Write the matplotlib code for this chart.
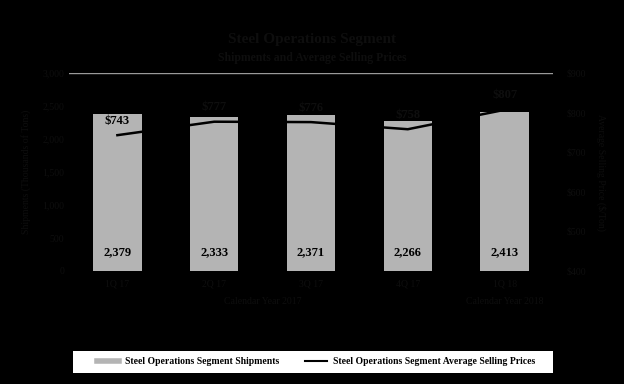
import matplotlib
matplotlib.use("Agg")
import matplotlib.pyplot as plt
from matplotlib.lines import Line2D
from matplotlib.patches import Rectangle
from matplotlib.ticker import FuncFormatter, MultipleLocator

# data
quarters = ["1Q 17", "2Q 17", "3Q 17", "4Q 17", "1Q 18"]
shipments = [2379, 2333, 2371, 2266, 2413]
avg_price = [743, 777, 776, 758, 807]

DARK = "#0e0e0e"
BAR_GRAY = "#b4b4b4"

plt.rcParams["font.family"] = ["Liberation Serif", "DejaVu Serif"]

fig = plt.figure(figsize=(6.24, 3.84), dpi=100, facecolor="black")
ax = fig.add_axes([69 / 624, 113 / 384, 484 / 624, 198 / 384])
ax.set_facecolor("black")

x = list(range(len(quarters)))
ax.bar(x, shipments, width=0.5, color=BAR_GRAY, zorder=2)
for xi, v in zip(x, shipments):
    ax.text(xi, 200, f"{v:,}", ha="center", va="bottom",
            fontsize=9, fontweight="bold", color="black", zorder=4)

ax.set_xlim(-0.5, len(quarters) - 0.5)
ax.set_ylim(0, 3000)
ax.yaxis.set_major_locator(MultipleLocator(500))
ax.yaxis.set_major_formatter(FuncFormatter(lambda v, p: f"{int(v):,}"))
ax.set_xticks(x)
ax.set_xticklabels(quarters)
ax.tick_params(axis="both", colors=DARK, labelcolor=DARK, labelsize=7, length=0)
ax.tick_params(axis="x", pad=6)
for s in ax.spines.values():
    s.set_visible(False)
ax.axhline(3000, color="#9a9a9a", lw=1, zorder=1)
ax.set_ylabel("Shipments (Thousands of Tons)", color=DARK, fontsize=7, labelpad=8)

# price line on right axis
ax2 = ax.twinx()
ax2.plot(x, avg_price, color="black", lw=1.8, zorder=3)
for xi, p in zip(x, avg_price):
    ax2.annotate(f"${p}", (xi, p), xytext=(0, 6), textcoords="offset points",
                 ha="center", va="bottom", fontsize=9, fontweight="bold",
                 color="black" if xi == 0 else DARK)
ax2.set_ylim(400, 900)
ax2.yaxis.set_major_locator(MultipleLocator(100))
ax2.yaxis.set_major_formatter(FuncFormatter(lambda v, p: f"${int(v)}"))
ax2.tick_params(axis="y", colors=DARK, labelcolor=DARK, labelsize=7, length=0, pad=10)
for s in ax2.spines.values():
    s.set_visible(False)
ax2.set_ylabel("Average Selling Price ($/Ton)", color=DARK, fontsize=7,
               rotation=270, labelpad=14)

# year groups under the quarter labels
ax.text(2 - 0.5, -0.13, "Calendar Year 2017", transform=ax.get_xaxis_transform(),
        ha="center", va="top", fontsize=7, color=DARK)
ax.text(4, -0.13, "Calendar Year 2018", transform=ax.get_xaxis_transform(),
        ha="center", va="top", fontsize=7, color=DARK)

fig.text(0.5, 1 - 40 / 384, "Steel Operations Segment", ha="center", va="center",
         fontsize=11, fontweight="bold", color=DARK)
fig.text(0.5, 1 - 58 / 384, "Shipments and Average Selling Prices", ha="center",
         va="center", fontsize=8.5, fontweight="bold", color=DARK)

# white legend band
fig.patches.append(Rectangle((73 / 624, 11 / 384), 480 / 624, 22 / 384,
                             transform=fig.transFigure, facecolor="white",
                             edgecolor="none", zorder=0))
handles = [Line2D([], [], color=BAR_GRAY, lw=4),
           Line2D([], [], color="black", lw=1.5)]
labels = ["Steel Operations Segment Shipments",
          "Steel Operations Segment Average Selling Prices"]
leg = fig.legend(handles, labels, loc="center", ncol=2, fontsize=7,
                 bbox_to_anchor=(316 / 624, 22 / 384), frameon=False,
                 handlelength=2.3, handletextpad=0.6, columnspacing=2.6)
for t in leg.get_texts():
    t.set_fontweight("bold")
    t.set_color("black")

fig.savefig("out.png", dpi=100, facecolor="black")
